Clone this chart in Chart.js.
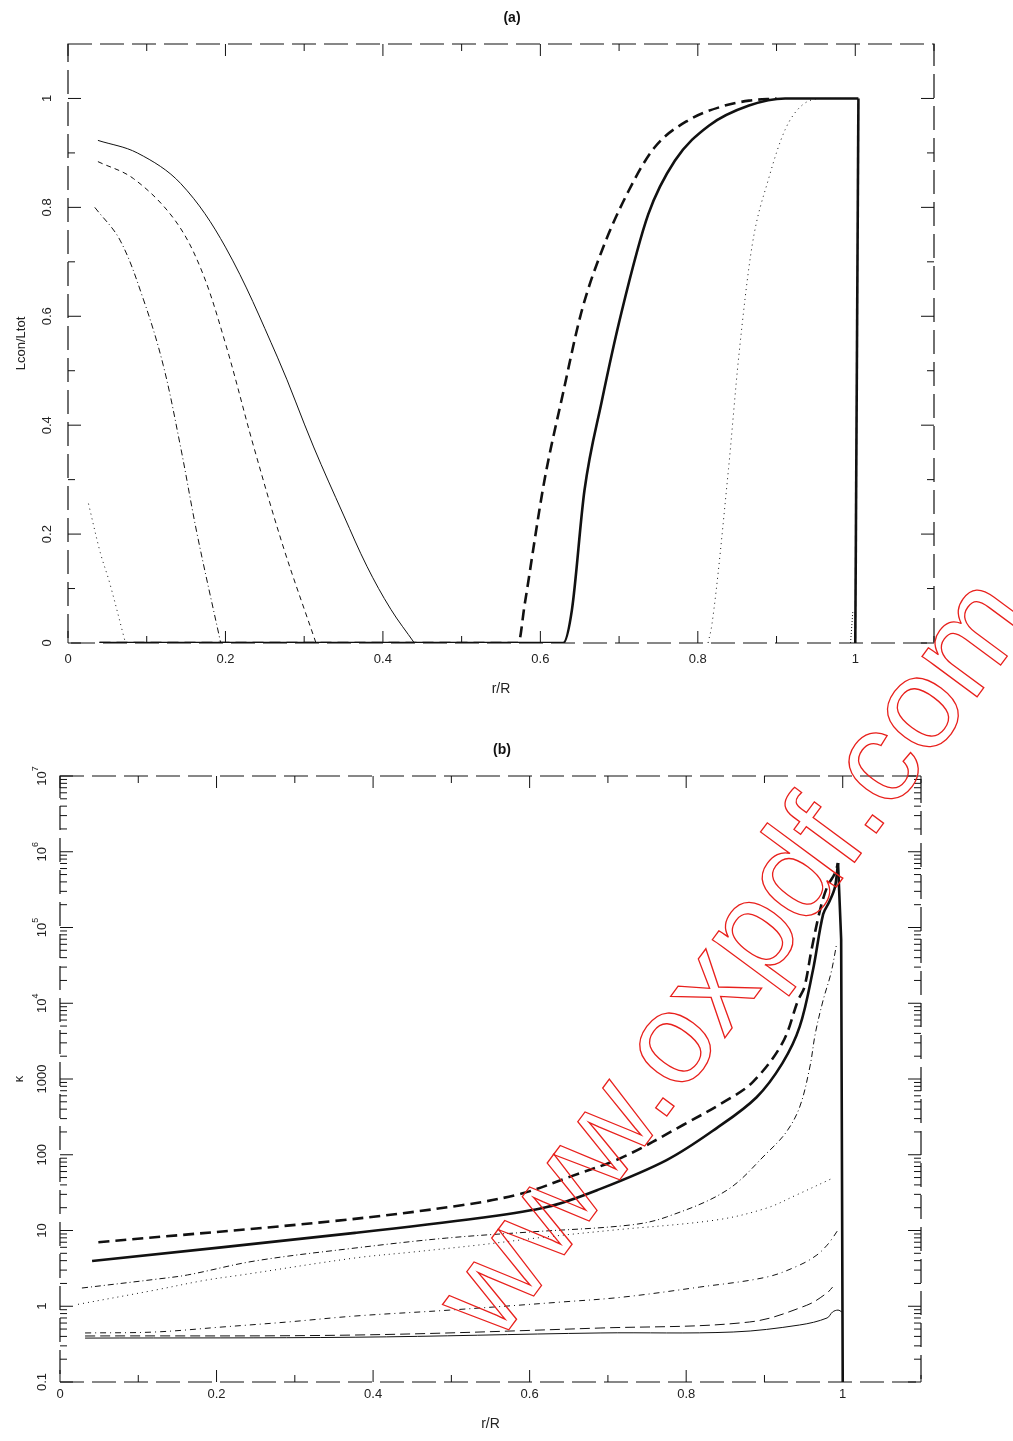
<!DOCTYPE html>
<html>
<head>
<meta charset="utf-8">
<script src="https://cdn.jsdelivr.net/npm/chart.js@4.4.1/dist/chart.umd.min.js"></script>
<style>
html, body { margin: 0; padding: 0; background: #fff; }
#wrapA { position: absolute; left: 0; top: 0; width: 1013px; height: 720px; }
#wrapB { position: absolute; left: 0; top: 728px; width: 1013px; height: 713px; }
#mark { position: absolute; left: 0; top: 0; pointer-events: none; }
</style>
</head>
<body>
<div id="wrapA"><canvas id="chartA"></canvas></div>
<div id="wrapB"><canvas id="chartB"></canvas></div>
<canvas id="mark" width="1013" height="1441"></canvas>
<script>
// ---- tick values / labels
var xTicks = [0, 0.2, 0.4, 0.6, 0.8, 1];
var xTickLabels = ['0', '0.2', '0.4', '0.6', '0.8', '1'];
var xMinor = [0.1, 0.3, 0.5, 0.7, 0.9, 1.1];
var yTicksA = [0, 0.2, 0.4, 0.6, 0.8, 1];
var yTickLabelsA = ['0', '0.2', '0.4', '0.6', '0.8', '1'];
var yMinorA = [0.1, 0.3, 0.5, 0.7, 0.9];
var yTicksB = [0.1, 1, 10, 100, 1000, 1e4, 1e5, 1e6, 1e7];
var yTickLabelsB = ['0.1', '1', '10', '100', '1000', '10^4', '10^5', '10^6', '10^7'];

// ---- panel (a): Lcon/Ltot against r/R
var a1R = [0.038, 0.088, 0.143, 0.2, 0.266, 0.312, 0.35, 0.38, 0.41, 0.44];
var a1L = [0.923, 0.90, 0.844, 0.727, 0.525, 0.36, 0.235, 0.14, 0.062, 0.0];
var a2R = [0.038, 0.083, 0.134, 0.168, 0.2, 0.236, 0.274, 0.315];
var a2L = [0.884, 0.853, 0.78, 0.69, 0.55, 0.36, 0.174, 0.0];
var a3R = [0.034, 0.066, 0.096, 0.121, 0.143, 0.164, 0.194];
var a3L = [0.80, 0.74, 0.63, 0.51, 0.36, 0.2, 0.0];
var a4R = [0.026, 0.041, 0.053, 0.073];
var a4L = [0.256, 0.166, 0.11, 0.0];
var a5R = [0.04, 0.572, 0.58, 0.605, 0.629, 0.652, 0.678, 0.712, 0.745, 0.788, 0.83, 0.865, 0.9];
var a5L = [0.0, 0.0, 0.07, 0.297, 0.46, 0.607, 0.72, 0.83, 0.91, 0.96, 0.985, 0.996, 1.0];
var a6R = [0.04, 0.629, 0.64, 0.656, 0.678, 0.703, 0.737, 0.771, 0.814, 0.865, 0.911, 1.004];
var a6L = [0.0, 0.0, 0.06, 0.28, 0.444, 0.607, 0.787, 0.886, 0.95, 0.987, 1.0, 1.0];
var a6dropR = [1.004, 1.0];
var a6dropL = [1.0, 0.0];
var a7R = [0.813, 0.818, 0.839, 0.852, 0.869, 0.89, 0.911, 0.932, 0.96, 1.0];
var a7L = [0.0, 0.035, 0.32, 0.526, 0.73, 0.853, 0.943, 0.987, 1.0, 1.0];
var a8R = [0.994, 0.997];
var a8L = [0.0, 0.06];

// ---- panel (b): kappa against r/R
var b1R = [0.049, 0.349, 0.515, 0.591, 0.651, 0.719, 0.796, 0.852, 0.885, 0.923, 0.943, 0.951, 0.96, 0.971, 0.98, 0.99, 0.994];
var b1K = [7.0, 13.3, 21.7, 31, 51, 93, 247, 525, 910, 2990, 11000, 16300, 50000, 170000, 340000, 520000, 710000];
var b2R = [0.041, 0.377, 0.536, 0.622, 0.686, 0.775, 0.839, 0.89, 0.923, 0.945, 0.962, 0.975, 0.983, 0.99, 0.994];
var b2K = [3.95, 9.3, 14.6, 20.4, 34, 85, 225, 575, 1620, 4900, 27500, 150000, 220000, 340000, 710000];
var b2dropR = [0.994, 0.998, 1.0];
var b2dropK = [710000, 70000, 0.1];
var b3R = [0.028, 0.125, 0.163, 0.249, 0.377, 0.494, 0.60, 0.728, 0.775, 0.852, 0.903, 0.928, 0.945, 0.958, 0.965, 0.975, 0.985, 0.992];
var b3K = [1.74, 2.29, 2.59, 3.96, 5.87, 7.95, 9.55, 11.8, 15.1, 34, 105, 200, 427, 1440, 4000, 11000, 25000, 59000];
var b4R = [0.023, 0.121, 0.185, 0.232, 0.377, 0.451, 0.536, 0.62, 0.706, 0.839, 0.903, 0.941, 0.987];
var b4K = [1.06, 1.63, 2.2, 2.59, 4.34, 5.2, 6.45, 8.2, 10.1, 13.8, 19.8, 29.5, 49];
var b5R = [0.032, 0.121, 0.207, 0.291, 0.377, 0.498, 0.642, 0.719, 0.817, 0.903, 0.945, 0.967, 0.98, 0.987, 0.994];
var b5K = [0.444, 0.457, 0.532, 0.62, 0.743, 0.89, 1.14, 1.32, 1.79, 2.43, 3.5, 4.75, 6.4, 7.95, 10.2];
var b6R = [0.032, 0.377, 0.69, 0.881, 0.954, 0.98, 0.987];
var b6K = [0.405, 0.417, 0.516, 0.62, 1.03, 1.5, 1.79];
var b7R = [0.032, 0.377, 0.69, 0.86, 0.945, 0.98, 0.987, 0.994, 0.999];
var b7K = [0.38, 0.39, 0.444, 0.457, 0.566, 0.70, 0.84, 0.89, 0.84];

var ink = '#111';
var fontFam = '"Liberation Sans", Arial, sans-serif';

function pts(xs, ys) {
    return xs.map(function (x, i) { return {x: x, y: ys[i]}; });
}

// mode: 'mono' (flat-then-rise curves), 'smooth', 'straight'
function line(xs, ys, w, dash, mode) {
    return {
        data: pts(xs, ys),
        borderColor: ink,
        borderWidth: w,
        borderDash: dash,
        pointRadius: 0,
        fill: false,
        cubicInterpolationMode: mode === 'mono' ? 'monotone' : 'default',
        tension: mode === 'smooth' ? 0.35 : 0
    };
}

// frame, inward ticks, rotated y labels, panel tag
var frame = {
    id: 'frame',
    afterDraw: function (chart, args, o) {
        var ctx = chart.ctx, a = chart.chartArea;
        var x = chart.scales.x, y = chart.scales.y;
        ctx.save();
        ctx.strokeStyle = ink;
        ctx.lineWidth = 1.2;
        ctx.setLineDash([24, 8]);
        ctx.strokeRect(a.left, a.top, a.right - a.left, a.bottom - a.top);
        ctx.setLineDash([]);
        ctx.lineWidth = 1;
        ctx.beginPath();
        function xt(v, len) {
            var p = x.getPixelForValue(v);
            ctx.moveTo(p, a.bottom); ctx.lineTo(p, a.bottom - len);
            ctx.moveTo(p, a.top); ctx.lineTo(p, a.top + len);
        }
        function yt(v, len) {
            var p = y.getPixelForValue(v);
            ctx.moveTo(a.left, p); ctx.lineTo(a.left + len, p);
            ctx.moveTo(a.right, p); ctx.lineTo(a.right - len, p);
        }
        xTicks.forEach(function (v) { xt(v, 12); });
        xMinor.forEach(function (v) { xt(v, 7); });
        o.yMajor.forEach(function (v) { yt(v, 13); });
        o.yMinor.forEach(function (v) { yt(v, 7); });
        ctx.stroke();

        ctx.fillStyle = '#222';
        ctx.textBaseline = 'middle';
        o.yMajor.forEach(function (v, i) {
            var p = y.getPixelForValue(v);
            var parts = o.yLabels[i].split('^');
            ctx.save();
            ctx.translate(o.labelX, p);
            ctx.rotate(-Math.PI / 2);
            ctx.font = '13px ' + fontFam;
            var w0 = ctx.measureText(parts[0]).width;
            var w1 = 0;
            if (parts[1]) {
                ctx.font = '9px ' + fontFam;
                w1 = ctx.measureText(parts[1]).width;
            }
            var start = -(w0 + w1) / 2;
            ctx.font = '13px ' + fontFam;
            ctx.textAlign = 'left';
            ctx.fillText(parts[0], start, 0);
            if (parts[1]) {
                ctx.font = '9px ' + fontFam;
                ctx.fillText(parts[1], start + w0, -6);
            }
            ctx.restore();
        });

        ctx.fillStyle = ink;
        ctx.font = 'bold 14px ' + fontFam;
        ctx.textAlign = 'center';
        ctx.fillText(o.tag, o.tagX, o.tagY);
        ctx.restore();
    }
};

function xScale(pad, h) {
    return {
        type: 'linear', min: 0, max: 1.1,
        afterBuildTicks: function (s) { s.ticks = xTicks.map(function (v) { return {value: v}; }); },
        afterFit: function (s) { s.height = h; },
        grid: {display: false, drawTicks: false},
        border: {display: false},
        ticks: {
            padding: pad, maxRotation: 0, autoSkip: false, color: '#222',
            font: {family: fontFam, size: 13},
            callback: function (v) { return xTickLabels[xTicks.indexOf(v)]; }
        },
        title: {display: true, text: 'r/R', color: '#222', padding: 0, font: {family: fontFam, size: 14}}
    };
}

function yTitle(text) {
    return {display: true, text: text, color: '#222', padding: 0, font: {family: fontFam, size: 13}};
}

// panel (a)
new Chart(document.getElementById('chartA').getContext('2d'), {
    type: 'line',
    data: {
        datasets: [
            line(a1R, a1L, 1, [], 'smooth'),
            line(a2R, a2L, 1, [5, 4], 'smooth'),
            line(a3R, a3L, 1, [6, 3, 1, 3], 'smooth'),
            line(a4R, a4L, 1, [1, 4], 'smooth'),
            line(a5R, a5L, 2.6, [11, 6], 'mono'),
            line(a6R, a6L, 2.6, [], 'mono'),
            line(a6dropR, a6dropL, 2.6, [], 'straight'),
            line(a7R, a7L, 1, [1, 4], 'mono'),
            line(a8R, a8L, 1, [1, 2], 'straight')
        ]
    },
    options: {
        responsive: true, maintainAspectRatio: false, animation: false,
        layout: {padding: {top: 44, right: 79, left: 14, bottom: 22}},
        plugins: {
            legend: {display: false}, tooltip: {enabled: false},
            frame: {yMajor: yTicksA, yMinor: yMinorA, yLabels: yTickLabelsA, labelX: 47, tag: '(a)', tagX: 512, tagY: 18}
        },
        scales: {
            x: xScale(9, 55),
            y: {
                type: 'linear', min: 0, max: 1.1,
                afterFit: function (s) { s.width = 54; },
                grid: {display: false}, border: {display: false},
                ticks: {display: false},
                title: yTitle('Lcon/Ltot')
            }
        }
    },
    plugins: [frame]
});

// panel (b)
var minorB = [];
yTicksB.slice(0, -1).forEach(function (d) {
    for (var k = 2; k <= 9; k++) minorB.push(d * k);
});

new Chart(document.getElementById('chartB').getContext('2d'), {
    type: 'line',
    data: {
        datasets: [
            line(b1R, b1K, 2.6, [11, 6], 'smooth'),
            line(b2R, b2K, 2.6, [], 'smooth'),
            line(b2dropR, b2dropK, 2.6, [], 'straight'),
            line(b3R, b3K, 1, [6, 3, 1, 3], 'smooth'),
            line(b4R, b4K, 1, [1, 4], 'smooth'),
            line(b5R, b5K, 1, [6, 4, 1, 4], 'smooth'),
            line(b6R, b6K, 1, [10, 5], 'smooth'),
            line(b7R, b7K, 1, [], 'smooth')
        ]
    },
    options: {
        responsive: true, maintainAspectRatio: false, animation: false,
        layout: {padding: {top: 48, right: 92, left: 12, bottom: 8}},
        plugins: {
            legend: {display: false}, tooltip: {enabled: false},
            frame: {yMajor: yTicksB, yMinor: minorB, yLabels: yTickLabelsB, labelX: 42, tag: '(b)', tagX: 502, tagY: 22}
        },
        scales: {
            x: xScale(5, 51),
            y: {
                type: 'logarithmic', min: 0.1, max: 1e7,
                afterFit: function (s) { s.width = 48; },
                grid: {display: false}, border: {display: false},
                ticks: {display: false},
                title: yTitle('κ')
            }
        }
    },
    plugins: [frame]
});

// watermark of the scanned page
(function () {
    var c = document.getElementById('mark').getContext('2d');
    var text = 'www.oxpdf.com';
    c.save();
    c.translate(738, 960);
    c.rotate(-53.5 * Math.PI / 180);
    c.font = '100px ' + fontFam;
    var w = c.measureText(text).width;
    var size = 100 * 905 / w;
    c.font = size + 'px ' + fontFam;
    c.textAlign = 'center';
    c.textBaseline = 'middle';
    c.strokeStyle = '#e8201c';
    c.lineWidth = 1.3;
    c.strokeText(text, 0, 0);
    c.restore();
})();
</script>
</body>
</html>
